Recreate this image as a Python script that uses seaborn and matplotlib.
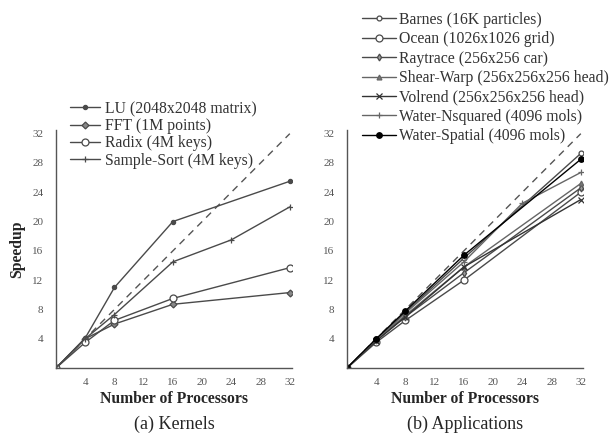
import matplotlib
matplotlib.use("Agg")
import matplotlib.pyplot as plt
import seaborn as sns
import pandas as pd

sns.set_style("white")
plt.rcParams['font.family'] = ['Liberation Serif', 'DejaVu Serif']

# ---- data: (a) Kernels ----
kern_names = ["LU (2048x2048 matrix)", "FFT (1M points)", "Radix (4M keys)", "Sample-Sort (4M keys)"]
lu_x = [0, 4, 8, 16, 32]
lu_y = [0, 4.1, 11.0, 20.0, 25.5]
fft_x = [0, 4, 8, 16, 32]
fft_y = [0, 4.0, 6.0, 8.7, 10.3]
radix_x = [0, 4, 8, 16, 32]
radix_y = [0, 3.5, 6.5, 9.5, 13.7]
ss_x = [0, 4, 8, 16, 24, 32]
ss_y = [0, 4.0, 7.3, 14.5, 17.5, 22.0]

# ---- data: (b) Applications ----
app_names = ["Barnes (16K particles)", "Ocean (1026x1026 grid)", "Raytrace (256x256 car)",
             "Shear-Warp (256x256x256 head)", "Volrend (256x256x256 head)",
             "Water-Nsquared (4096 mols)", "Water-Spatial (4096 mols)"]
app_x = [0, 4, 8, 16, 32]
barnes_y = [0, 3.9, 7.6, 15.0, 29.3]
ocean_y = [0, 3.5, 6.5, 12.0, 24.0]
raytrace_y = [0, 3.8, 7.0, 13.0, 24.6]
shear_y = [0, 3.8, 7.2, 13.8, 25.2]
volrend_y = [0, 3.7, 7.0, 13.8, 23.0]
wn_x = [0, 4, 8, 16, 24, 32]
wn_y = [0, 3.9, 7.5, 14.5, 22.5, 26.7]
ws_y = [0, 4.0, 7.8, 15.4, 28.5]

ticks = [4, 8, 12, 16, 20, 24, 28, 32]
ideal = [0, 32]

fig = plt.figure(figsize=(6.11, 4.33), dpi=100)
axA = fig.add_axes([56/611, 1-368/433, 236/611, 238/433])
axB = fig.add_axes([347/611, 1-368/433, 236/611, 238/433])

gray = "#4a4a4a"

def draw(ax, xs, ys, label, marker, color=gray, mfc=None, ms=4):
    df = pd.DataFrame({"x": xs, "y": ys})
    sns.lineplot(data=df, x="x", y="y", ax=ax, color=color, lw=1.0, marker=marker,
                 markersize=ms, markerfacecolor=(mfc if mfc else color),
                 markeredgecolor=color, markeredgewidth=0.9, label=label)

def ideal_line(ax):
    df = pd.DataFrame({"x": ideal, "y": ideal})
    sns.lineplot(data=df, x="x", y="y", ax=ax, color="#555555", lw=1.0,
                 linestyle=(0, (5, 4)), legend=False)

# (a)
ideal_line(axA)
draw(axA, lu_x, lu_y, kern_names[0], "o", ms=3)
draw(axA, fft_x, fft_y, kern_names[1], "D", ms=3.5, mfc="#888888")
draw(axA, radix_x, radix_y, kern_names[2], "o", ms=5, mfc="white")
draw(axA, ss_x, ss_y, kern_names[3], "+", ms=5)

# (b)
ideal_line(axB)
draw(axB, app_x, barnes_y, app_names[0], "o", ms=3.5, mfc="white")
draw(axB, app_x, ocean_y, app_names[1], "o", ms=5, mfc="white")
draw(axB, app_x, raytrace_y, app_names[2], "d", ms=3.5, mfc="#999999")
draw(axB, app_x, shear_y, app_names[3], "^", ms=3.5, mfc="#777777", color="#666666")
draw(axB, app_x, volrend_y, app_names[4], "x", ms=4, color="#333333")
draw(axB, wn_x, wn_y, app_names[5], "+", ms=5, color="#666666")
draw(axB, app_x, ws_y, app_names[6], "o", ms=4, color="black")

for ax, cap in [(axA, "(a) Kernels"), (axB, "(b) Applications")]:
    ax.set_xlim(0, 32.3)
    ax.set_ylim(0, 32.5)
    ax.set_xticks(ticks)
    ax.set_yticks(ticks)
    ax.tick_params(axis="both", direction="inout", length=4, width=0.8,
                   labelsize=8, colors="#555555", labelcolor="#555555")
    ax.tick_params(axis="y", pad=7)
    ax.tick_params(axis="x", pad=5)
    for s in ["top", "right"]:
        ax.spines[s].set_visible(False)
    for s in ["left", "bottom"]:
        ax.spines[s].set_color("#555555")
        ax.spines[s].set_linewidth(1.0)
    ax.set_xlabel("Number of Processors", fontsize=11.3, fontweight="bold", labelpad=3)
    ax.text(0.5, -0.2, cap, transform=ax.transAxes, ha="center", va="top", fontsize=13)

axA.set_ylabel("Speedup", fontsize=11.3, fontweight="bold", labelpad=5)
axB.set_ylabel("")

legA = axA.legend(loc="upper left", bbox_to_anchor=(0.025, 1.155), frameon=False,
                  fontsize=11.3, handlelength=1.9, handletextpad=0.35, labelspacing=0.08,
                  borderpad=0)
legB = axB.legend(loc="upper left", bbox_to_anchor=(0.03, 1.53), frameon=False,
                  fontsize=11.3, handlelength=2.15, handletextpad=0.2, labelspacing=0.22,
                  borderpad=0)
for leg in (legA, legB):
    for t in leg.get_texts():
        t.set_color("#333333")

fig.savefig("out.png", dpi=100)
